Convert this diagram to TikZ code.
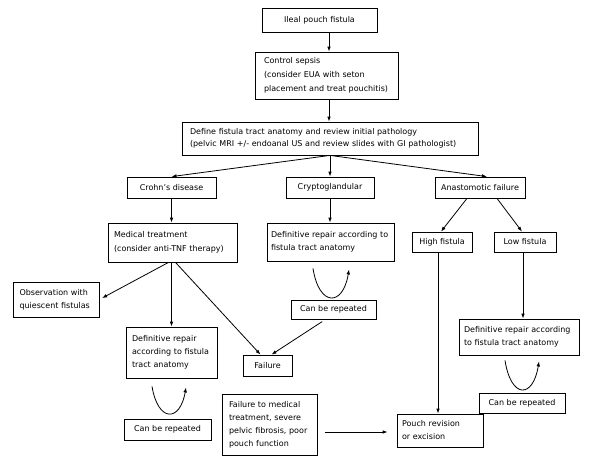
\documentclass[tikz,border=0pt]{standalone}
\usepackage{fontspec}
\setmainfont{DejaVu Sans}
\usetikzlibrary{arrows.meta,calc}
\tikzset{
  box/.style={draw, line width=0.8pt, inner sep=0pt, align=center,
    font=\fontsize{8}{13}\selectfont},
  mbox/.style={box, align=left},
  arr/.style={line width=0.8pt, -{Latex[length=5pt,width=3.6pt]}},
}
\begin{document}
\begin{tikzpicture}[x=1pt,y=-1pt]
\useasboundingbox[fill=white] (0,0) rectangle (601,467);

\node[box, minimum width=115pt, minimum height=24pt] (ileal) at (319.5,20) {Ileal pouch fistula};
\node[mbox, minimum width=143pt, minimum height=47pt, text width=125pt,
  font=\fontsize{8}{14}\selectfont] (sepsis) at (326.5,75.5)
  {Control sepsis\\(consider EUA with seton\\placement and treat pouchitis)};
\node[mbox, minimum width=296pt, minimum height=33pt, text width=280pt,
  font=\fontsize{8}{11.5}\selectfont] (define) at (330,138.5)
  {Define fistula tract anatomy and review initial pathology\\(pelvic MRI +/- endoanal US and review slides with GI pathologist)};
\node[box, minimum width=89pt, minimum height=21pt] (crohn) at (171.5,187.5) {Crohn’s disease};
\node[box, minimum width=88pt, minimum height=21pt] (crypto) at (330,187.5) {Cryptoglandular};
\node[box, minimum width=90pt, minimum height=21pt] (anast) at (480,187.5) {Anastomotic failure};
\node[mbox, minimum width=129pt, minimum height=39pt, text width=117pt,
  font=\fontsize{8}{14}\selectfont] (medical) at (172.5,242.5)
  {Medical treatment\\(consider anti-TNF therapy)};
\node[mbox, minimum width=127pt, minimum height=38pt, text width=119pt] (cdef) at (330.5,242)
  {Definitive repair according to\\fistula tract anatomy};
\node[box, minimum width=60pt, minimum height=20pt] (high) at (442,242) {High fistula};
\node[box, minimum width=62pt, minimum height=20pt] (low) at (525,242) {Low fistula};
\node[mbox, minimum width=86pt, minimum height=35pt, text width=73pt] (obs) at (56,299.5)
  {Observation with\\quiescent fistulas};
\node[mbox, minimum width=91pt, minimum height=51pt, text width=79pt] (ldef) at (171.5,352.5)
  {Definitive repair\\according to fistula\\tract anatomy};
\node[box, minimum width=49pt, minimum height=21pt] (fail) at (267.5,365.5) {Failure};
\node[box, minimum width=85pt, minimum height=19pt] (ccan) at (333.5,309.5) {Can be repeated};
\node[mbox, minimum width=120pt, minimum height=36pt, text width=110pt] (rdef) at (519,337)
  {Definitive repair according\\to fistula tract anatomy};
\node[box, minimum width=87pt, minimum height=21pt] (lcan) at (167.5,429.5) {Can be repeated};
\node[mbox, minimum width=95pt, minimum height=61pt, text width=81pt] (fmed) at (269.5,424.5)
  {Failure to medical\\treatment, severe\\pelvic fibrosis, poor\\pouch function};
\node[mbox, minimum width=86pt, minimum height=33pt, text width=76pt] (pouch) at (440,430.5)
  {Pouch revision\\or excision};
\node[box, minimum width=86pt, minimum height=20pt] (rcan) at (522,403) {Can be repeated};

% connectors
\draw[arr] ($(ileal.south)+(9.5,0)$) -- ($(ileal.south |- sepsis.north)+(9.5,0)$);
\draw[arr] ($(sepsis.south)+(2.5,0)$) -- ($(sepsis.south |- define.north)+(2.5,0)$);
\draw[arr] (define.south) -- (crypto.north);
\draw[arr] (define.south) -- (crohn.north);
\draw[arr] (define.south) -- ($(anast.north)+(7,0)$);
\draw[arr] (crohn.south) -- (crohn.south |- medical.north);
\draw[arr] (crypto.south) -- (crypto.south |- cdef.north);
\draw[arr] ($(anast.south)+(-13,0)$) -- ($(high.north)+(-1,0)$);
\draw[arr] ($(anast.south)+(17,0)$) -- ($(low.north)+(-3,0)$);
\draw[arr, shorten >=3pt] ($(medical.south)+(-4,0)$) -- (obs.east);
\draw[arr] (ldef.north |- medical.south) -- (ldef.north);
\draw[arr] ($(medical.south)+(3,0)$) -- ($(fail.north)+(-7,0)$);
\draw[arr, shorten <=4pt] ($(ccan.south)+(-8,0)$) -- ($(fail.north)+(4,0)$);
\draw[arr] ($(high.south)+(-4,0)$) -- ($(high.south |- pouch.north)+(-4,0)$);
\draw[arr] ($(low.south)+(-2,0)$) -- ($(low.south |- rdef.north)+(-2,0)$);
\draw[arr, shorten <=8pt, shorten >=9pt] ($(fmed.east |- pouch.west)+(0,1.5)$) -- ($(pouch.west)+(0,1.5)$);

% repeat loops
\draw[arr] ($(cdef.south)+(-17.5,7)$) .. controls ($(cdef.south)+(-11.5,45.5)$) and ($(cdef.south)+(12.5,45.5)$) .. ($(cdef.south)+(18.5,8)$);
\draw[arr] ($(ldef.south)+(-19.5,8)$) .. controls ($(ldef.south)+(-13.5,44)$) and ($(ldef.south)+(8.5,44)$) .. ($(ldef.south)+(14.5,9)$);
\draw[arr] ($(rdef.south)+(-14,5)$) .. controls ($(rdef.south)+(-8,43.5)$) and ($(rdef.south)+(14,43.5)$) .. ($(rdef.south)+(20,6)$);
\end{tikzpicture}
\end{document}
